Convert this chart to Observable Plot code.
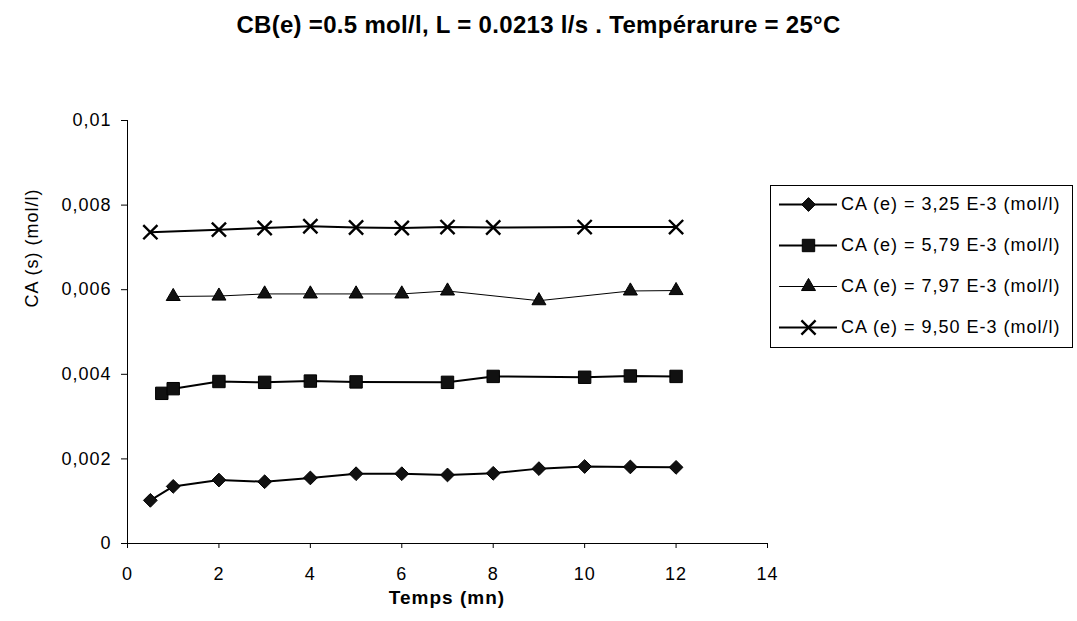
<!DOCTYPE html>
<html>
<head>
<meta charset="utf-8">
<script src="https://cdn.jsdelivr.net/npm/d3@7"></script>
<script src="https://cdn.jsdelivr.net/npm/@observablehq/plot@0.6"></script>
<style>
  html, body { margin: 0; padding: 0; background: #fff; }
  body { width: 1077px; height: 621px; overflow: hidden; font-family: "Liberation Sans", Arial, sans-serif; }
  #wrap { position: relative; width: 1077px; height: 621px; }
  #title { position: absolute; left: 0; top: 0; width: 1077px; height: 50px; line-height: 50px; text-align: center; font-weight: bold; font-size: 24px; letter-spacing: 0.3px; color: #000; }
  #chart { position: absolute; left: 0; top: 80px; }
  #legend { position: absolute; left: 770px; top: 185px; width: 303px; height: 163px; border: 1px solid #000; box-sizing: border-box; background: #fff; }
  .item { position: absolute; left: 8px; height: 22px; display: flex; align-items: center; font-size: 18px; letter-spacing: 1px; color: #000; white-space: nowrap; }
  .item svg { margin-right: 4px; }
</style>
</head>
<body>
<div id="wrap">
  <div id="title">CB(e) =0.5 mol/l, L = 0.0213 l/s . Tempérarure = 25°C</div>
  <div id="chart"></div>
  <div id="legend"></div>
</div>
<script>
// ---- Data ----
const seriesNames = [
  "CA (e) = 3,25 E-3 (mol/l)",
  "CA (e) = 5,79 E-3 (mol/l)",
  "CA (e) = 7,97 E-3 (mol/l)",
  "CA (e) = 9,50 E-3 (mol/l)"
];
const seriesSymbols = ["diamond2", "square", "triangle", "times"];

const t1 = [0.5, 1, 2, 3, 4, 5, 6, 7, 8, 9, 10, 11, 12];
const c1 = [0.00102, 0.00135, 0.0015, 0.00146, 0.00155, 0.00165, 0.00165, 0.00162, 0.00166, 0.00177, 0.00182, 0.00181, 0.0018];

const t2 = [0.75, 1, 2, 3, 4, 5, 7, 8, 10, 11, 12];
const c2 = [0.00355, 0.00366, 0.00383, 0.00381, 0.00384, 0.00382, 0.00381, 0.00395, 0.00393, 0.00396, 0.00395];

const t3 = [1, 2, 3, 4, 5, 6, 7, 9, 11, 12];
const c3 = [0.00584, 0.00585, 0.0059, 0.0059, 0.0059, 0.0059, 0.00597, 0.00574, 0.00597, 0.00598];

const t4 = [0.5, 2, 3, 4, 5, 6, 7, 8, 10, 12];
const c4 = [0.00736, 0.00742, 0.00746, 0.0075, 0.00747, 0.00746, 0.00748, 0.00747, 0.00748, 0.00748];

const xTicks = [0, 2, 4, 6, 8, 10, 12, 14];
const yTicks = [0, 0.002, 0.004, 0.006, 0.008, 0.01];

const xLabel = "Temps (mn)";
const yLabel = "CA (s) (mol/l)";

// ---- Build table ----
const allT = [t1, t2, t3, t4];
const allC = [c1, c2, c3, c4];
const data = [];
allT.forEach((ts, i) => ts.forEach((t, j) => data.push({series: seriesNames[i], t, c: allC[i][j]})));

const lineWidths = [2, 2, 1, 2];
const dotR = {diamond2: 6.2, square: 7, triangle: 5.2, times: 6.5};
const fmtY = v => String(v).replace(".", ",");

function dotFor(d, sym, extra) {
  return sym === "times"
    ? Plot.dot(d, {...extra, symbol: sym, r: dotR[sym], stroke: "#000", strokeWidth: 2.4})
    : Plot.dot(d, {...extra, symbol: sym, r: dotR[sym], fill: "#111", stroke: "#000", strokeWidth: 1});
}

const marks = [
  Plot.ruleX([0], {stroke: "#000", strokeWidth: 1}),
  Plot.ruleY([0], {stroke: "#000", strokeWidth: 1}),
  Plot.axisX({ticks: xTicks, tickSize: 5, tickPadding: 19, fontSize: 18, label: null, stroke: "#000", fill: "#000"}),
  Plot.axisY({ticks: yTicks, tickSize: 6, tickPadding: 10, fontSize: 18, tickFormat: fmtY, label: null, stroke: "#000", fill: "#000"}),
];
seriesNames.forEach((name, i) => {
  const d = data.filter(r => r.series === name);
  marks.push(Plot.line(d, {x: "t", y: "c", stroke: "#000", strokeWidth: lineWidths[i]}));
  marks.push(dotFor(d, seriesSymbols[i], {x: "t", y: "c"}));
});

const chart = Plot.plot({
  width: 1077,
  height: 541,
  marginLeft: 127,
  marginRight: 310,
  marginTop: 40,
  marginBottom: 78,
  style: {fontFamily: "Liberation Sans, Arial, sans-serif", color: "#000", background: "#fff", letterSpacing: "1px"},
  x: {domain: [0, 14], axis: null},
  y: {domain: [0, 0.01], axis: null},
  marks
});
document.getElementById("chart").appendChild(chart);

// Axis titles
const ns = "http://www.w3.org/2000/svg";
const xl = document.createElementNS(ns, "text");
xl.setAttribute("x", 447);
xl.setAttribute("y", 524);
xl.setAttribute("text-anchor", "middle");
xl.setAttribute("font-size", "19");
xl.setAttribute("font-weight", "bold");
xl.setAttribute("fill", "#000");
xl.textContent = xLabel;
chart.appendChild(xl);

const yl = document.createElementNS(ns, "text");
yl.setAttribute("transform", "translate(38,168) rotate(-90)");
yl.setAttribute("text-anchor", "middle");
yl.setAttribute("font-size", "18");
yl.setAttribute("fill", "#000");
yl.textContent = yLabel;
chart.appendChild(yl);

// ---- Legend ----
const legend = document.getElementById("legend");
const tops = [7, 48, 89, 130];
seriesNames.forEach((name, i) => {
  const item = document.createElement("div");
  item.className = "item";
  item.style.top = tops[i] + "px";
  const sw = Plot.plot({
    width: 58, height: 22, margin: 0,
    x: {domain: [0, 1], axis: null}, y: {domain: [0, 1], axis: null},
    marks: [
      Plot.line([{x: 0, y: 0.5}, {x: 1, y: 0.5}], {x: "x", y: "y", stroke: "#000", strokeWidth: lineWidths[i]}),
      dotFor([{x: 0.5, y: 0.5}], seriesSymbols[i], {x: "x", y: "y"})
    ]
  });
  item.appendChild(sw);
  const span = document.createElement("span");
  span.textContent = name;
  item.appendChild(span);
  legend.appendChild(item);
});
</script>
</body>
</html>
